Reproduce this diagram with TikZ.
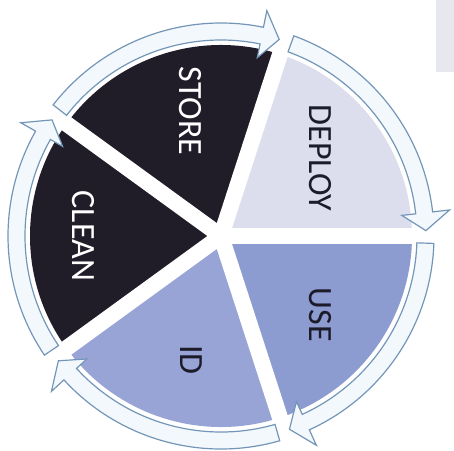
\documentclass[tikz,border=0pt]{standalone}
\usepackage{fontspec}
\setmainfont{Carlito}
\definecolor{darkslice}{HTML}{211D28}
\definecolor{deployfill}{HTML}{DCDEEE}
\definecolor{usefill}{HTML}{8C9BD0}
\definecolor{idfill}{HTML}{98A4D6}
\definecolor{ringline}{HTML}{7396B8}
\definecolor{ringfill}{HTML}{F3F8FC}
\definecolor{darktext}{HTML}{1C1B2A}
\definecolor{scanbox}{HTML}{E7E8EF}

\begin{document}
\begin{tikzpicture}[x=1pt, y=1pt,
  gap/.style={white, line width=16pt},
  ring/.style={draw=ringline, fill=ringfill, line width=1.2pt, line join=miter},
  slicetext/.style={rotate=-90, inner sep=0pt, font=\fontsize{34}{40}\selectfont}]
\useasboundingbox (-221,-214) rectangle (233,236);
\coordinate (O) at (0,0);
\fill[scanbox] (215,164) rectangle (233,236);

% slices
\fill[deployfill] (O) -- (0:191) arc[start angle=0, end angle=72, radius=191pt] -- cycle;
\fill[darkslice] (O) -- (72:191) arc[start angle=72, end angle=144, radius=191pt] -- cycle;
\fill[darkslice] (O) -- (144:191) arc[start angle=144, end angle=216, radius=191pt] -- cycle;
\fill[idfill] (O) -- (216:191) arc[start angle=216, end angle=288, radius=191pt] -- cycle;
\fill[usefill] (O) -- (288:191) arc[start angle=288, end angle=360, radius=191pt] -- cycle;

% white gaps between slices
\draw[gap] (O) -- (0:195);
\draw[gap] (O) -- (72:195);
\draw[gap] (O) -- (144:195);
\draw[gap] (O) -- (216:195);
\draw[gap] (O) -- (288:195);

% arrows round the cycle
\draw[ring] (142:213) arc[start angle=142, end angle=78.5, radius=213pt] -- (78.5:230) -- (73.5:205) -- (78.5:182) -- (78.5:196) arc[start angle=78.5, end angle=142, radius=196pt] -- cycle;
\draw[ring] (70:213) arc[start angle=70, end angle=6.5, radius=213pt] -- (6.5:230) -- (1.5:205) -- (6.5:182) -- (6.5:196) arc[start angle=6.5, end angle=70, radius=196pt] -- cycle;
\draw[ring] (-2:213) arc[start angle=-2, end angle=-65.5, radius=213pt] -- (-65.5:230) -- (-70.5:205) -- (-65.5:182) -- (-65.5:196) arc[start angle=-65.5, end angle=-2, radius=196pt] -- cycle;
\draw[ring] (286:213) arc[start angle=286, end angle=222.5, radius=213pt] -- (222.5:230) -- (217.5:205) -- (222.5:182) -- (222.5:196) arc[start angle=222.5, end angle=286, radius=196pt] -- cycle;
\draw[ring] (214:213) arc[start angle=214, end angle=150.5, radius=213pt] -- (150.5:230) -- (145.5:205) -- (150.5:182) -- (150.5:196) arc[start angle=150.5, end angle=214, radius=196pt] -- cycle;

% labels
\node[slicetext, white] (store) at (-31,125) {STORE};
\node[slicetext, darktext] (deploy) at (99,78) {DEPLOY};
\node[slicetext, darktext] (use) at (99,-79) {USE};
\node[slicetext, darktext] (id) at (-30,-124) {ID};
\node[slicetext, white] (clean) at (-138,0) {CLEAN};
\end{tikzpicture}
\end{document}
